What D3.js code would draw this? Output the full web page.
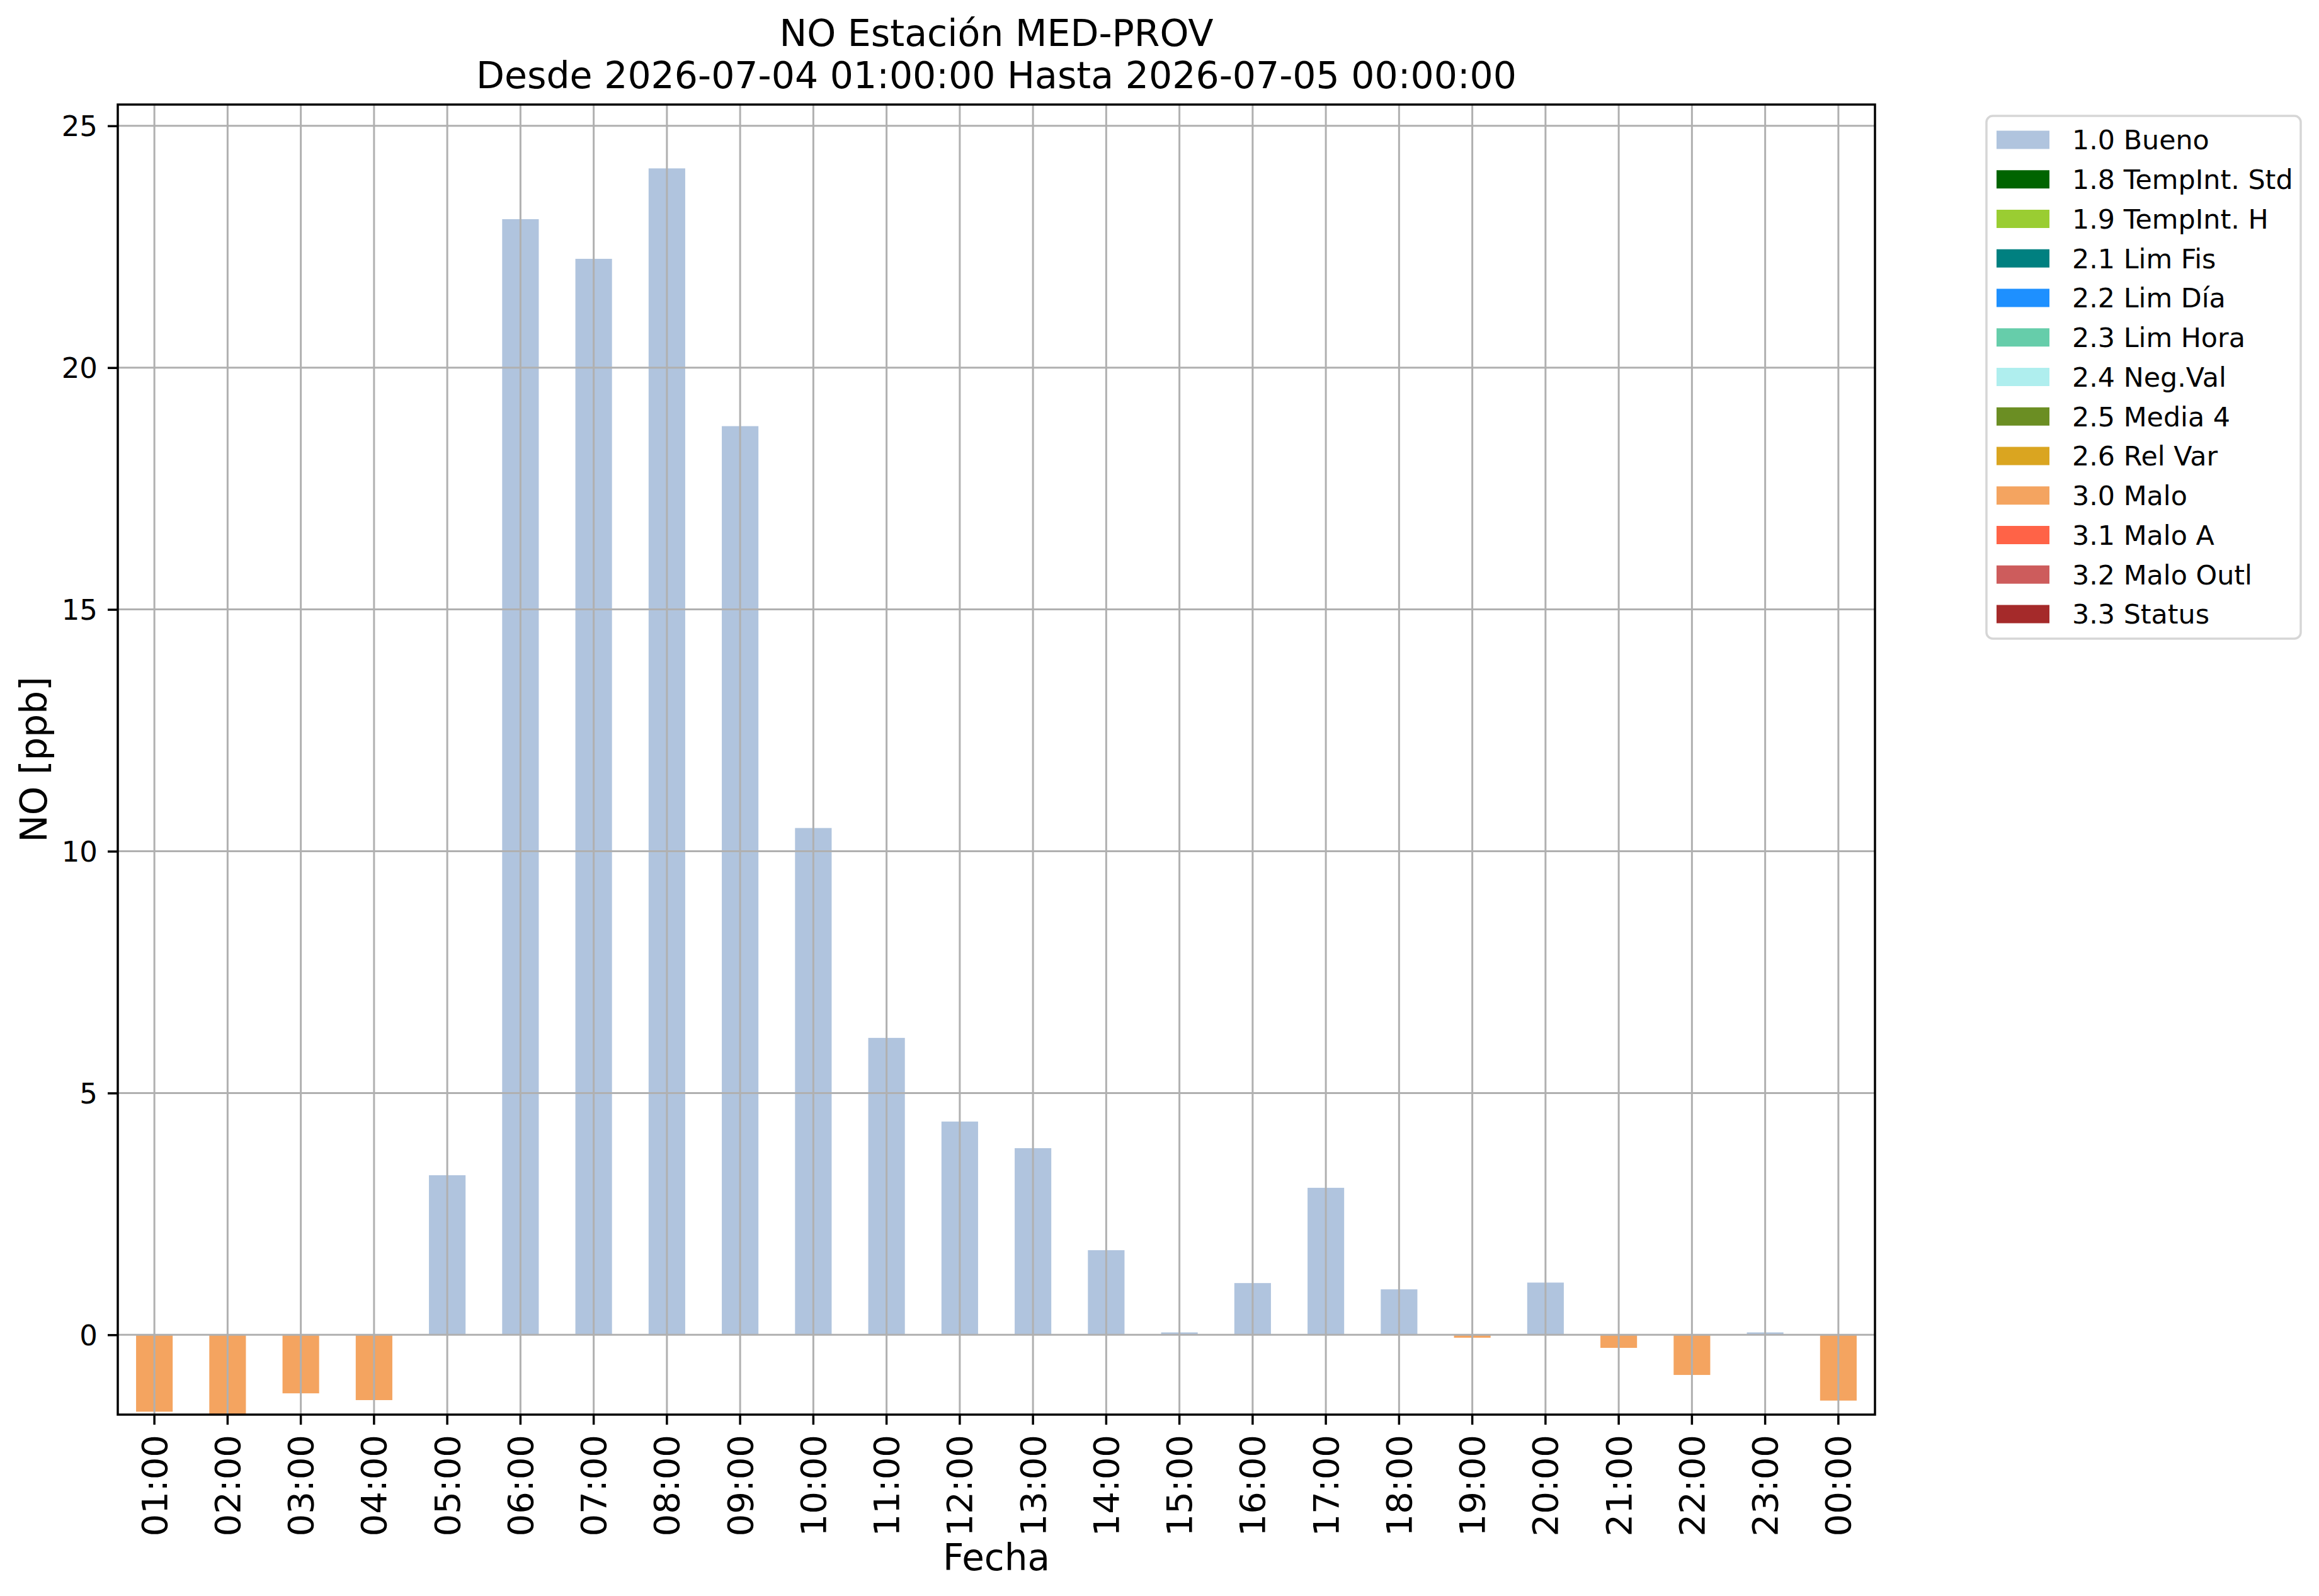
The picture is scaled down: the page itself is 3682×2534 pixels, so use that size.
<!DOCTYPE html>
<html>
<head>
<meta charset="utf-8">
<script src="https://cdn.jsdelivr.net/npm/d3@7/dist/d3.min.js"></script>
<style>
	body { margin: 0; background: #ffffff; }
	svg text { font-family: "DejaVu Sans", sans-serif; fill: #000000; }
</style>
</head>
<body>
<svg id="chart" width="3682" height="2534"></svg>
<script>
//hourly categories (x axis)
var hours = ["01:00","02:00","03:00","04:00","05:00","06:00","07:00","08:00","09:00","10:00","11:00","12:00",
	"13:00","14:00","15:00","16:00","17:00","18:00","19:00","20:00","21:00","22:00","23:00","00:00"];

//NO values in ppb, one per hour
var noValues = [-1.59,-1.64,-1.21,-1.35,3.30,23.07,22.25,24.12,18.79,10.48,6.14,4.41,
	3.86,1.75,0.05,1.07,3.04,0.94,-0.06,1.08,-0.27,-0.83,0.05,-1.36];

//validation flag of each hour
var hourFlags = ["3.0 Malo","3.0 Malo","3.0 Malo","3.0 Malo","1.0 Bueno","1.0 Bueno","1.0 Bueno","1.0 Bueno",
	"1.0 Bueno","1.0 Bueno","1.0 Bueno","1.0 Bueno","1.0 Bueno","1.0 Bueno","1.0 Bueno","1.0 Bueno",
	"1.0 Bueno","1.0 Bueno","3.0 Malo","1.0 Bueno","3.0 Malo","3.0 Malo","1.0 Bueno","3.0 Malo"];

//legend entries
var flagLabels = ["1.0 Bueno","1.8 TempInt. Std","1.9 TempInt. H","2.1 Lim Fis","2.2 Lim Día","2.3 Lim Hora",
	"2.4 Neg.Val","2.5 Media 4","2.6 Rel Var","3.0 Malo","3.1 Malo A","3.2 Malo Outl","3.3 Status"];
var flagColors = ["#b0c4de","#006400","#9acd32","#008080","#1e90ff","#66cdaa",
	"#afeeee","#6b8e23","#daa520","#f4a460","#ff6347","#cd5c5c","#a52a2a"];

var yTicks = [0,5,10,15,20,25];
var yDomain = [-1.65,25.44];

var titleLines = ["NO Estación MED-PROV","Desde 2026-07-04 01:00:00 Hasta 2026-07-05 00:00:00"];

//plot area
var plot = {left: 187, right: 2977, top: 166, bottom: 2246};

var svg = d3.select("#chart");

var x = d3.scaleBand()
	.domain(hours)
	.range([plot.left, plot.right])
	.paddingInner(0.5)
	.paddingOuter(0.25);

var y = d3.scaleLinear()
	.domain(yDomain)
	.range([plot.bottom, plot.top]);

var color = d3.scaleOrdinal()
	.domain(flagLabels)
	.range(flagColors);

//bars
svg.append("g")
	.selectAll("rect")
	.data(noValues)
	.join("rect")
	.attr("x", function(d,i) { return x(hours[i]); })
	.attr("width", x.bandwidth())
	.attr("y", function(d) { return Math.min(y(d), y(0)); })
	.attr("height", function(d) { return Math.abs(y(d) - y(0)); })
	.attr("fill", function(d,i) { return color(hourFlags[i]); });

//grid over the bars (like matplotlib)
var grid = svg.append("g").attr("stroke", "#b0b0b0").attr("stroke-width", 3);
grid.selectAll("line.v")
	.data(hours)
	.join("line")
	.attr("class", "v")
	.attr("x1", function(d) { return x(d) + x.bandwidth()/2; })
	.attr("x2", function(d) { return x(d) + x.bandwidth()/2; })
	.attr("y1", plot.top)
	.attr("y2", plot.bottom);
grid.selectAll("line.h")
	.data(yTicks)
	.join("line")
	.attr("class", "h")
	.attr("x1", plot.left)
	.attr("x2", plot.right)
	.attr("y1", function(d) { return y(d); })
	.attr("y2", function(d) { return y(d); });

//x axis
var xAxis = svg.append("g")
	.attr("transform", "translate(0," + plot.bottom + ")")
	.call(d3.axisBottom(x).tickSize(16).tickSizeOuter(0));
xAxis.select(".domain").remove();
xAxis.selectAll(".tick line").attr("stroke", "#000").attr("stroke-width", 3.5);
xAxis.selectAll(".tick text")
	.attr("transform", "rotate(-90)")
	.attr("x", -32)
	.attr("y", 0)
	.attr("dy", "0.35em")
	.attr("text-anchor", "end")
	.style("font-size", "56px");

//y axis
var yAxis = svg.append("g")
	.attr("transform", "translate(" + plot.left + ",0)")
	.call(d3.axisLeft(y).tickValues(yTicks).tickSize(16).tickPadding(16).tickFormat(d3.format("d")));
yAxis.select(".domain").remove();
yAxis.selectAll(".tick line").attr("stroke", "#000").attr("stroke-width", 3.5);
yAxis.selectAll(".tick text")
	.attr("dy", "0.35em")
	.style("font-size", "45px");

//frame
svg.append("rect")
	.attr("x", plot.left)
	.attr("y", plot.top)
	.attr("width", plot.right - plot.left)
	.attr("height", plot.bottom - plot.top)
	.attr("fill", "none")
	.attr("stroke", "#000")
	.attr("stroke-width", 3.5);

//title
var cx = (plot.left + plot.right) / 2;
svg.append("g")
	.selectAll("text")
	.data(titleLines)
	.join("text")
	.attr("x", cx)
	.attr("y", function(d,i) { return 73 + i*67; })
	.attr("text-anchor", "middle")
	.style("font-size", "58.5px")
	.text(function(d) { return d; });

//axis labels
svg.append("text")
	.attr("x", cx)
	.attr("y", 2493)
	.attr("text-anchor", "middle")
	.style("font-size", "58px")
	.text("Fecha");

svg.append("text")
	.attr("transform", "translate(74," + ((plot.top + plot.bottom)/2) + ") rotate(-90)")
	.attr("text-anchor", "middle")
	.style("font-size", "58px")
	.text("NO [ppb]");

//legend
var legend = svg.append("g");
legend.append("rect")
	.attr("x", 3154)
	.attr("y", 184)
	.attr("width", 499)
	.attr("height", 830)
	.attr("rx", 10)
	.attr("fill", "#ffffff")
	.attr("fill-opacity", 0.8)
	.attr("stroke", "#d6d6d6")
	.attr("stroke-width", 3.5);

var rowY = d3.scalePoint()
	.domain(flagLabels)
	.range([222, 975]);

var entries = legend.selectAll("g.entry")
	.data(flagLabels)
	.join("g")
	.attr("class", "entry")
	.attr("transform", function(d) { return "translate(0," + rowY(d) + ")"; });
entries.append("rect")
	.attr("x", 3170)
	.attr("y", -14.5)
	.attr("width", 84)
	.attr("height", 29)
	.attr("fill", function(d) { return color(d); });
entries.append("text")
	.attr("x", 3290)
	.attr("dy", "0.36em")
	.style("font-size", "42.8px")
	.text(function(d) { return d; });
</script>
</body>
</html>
